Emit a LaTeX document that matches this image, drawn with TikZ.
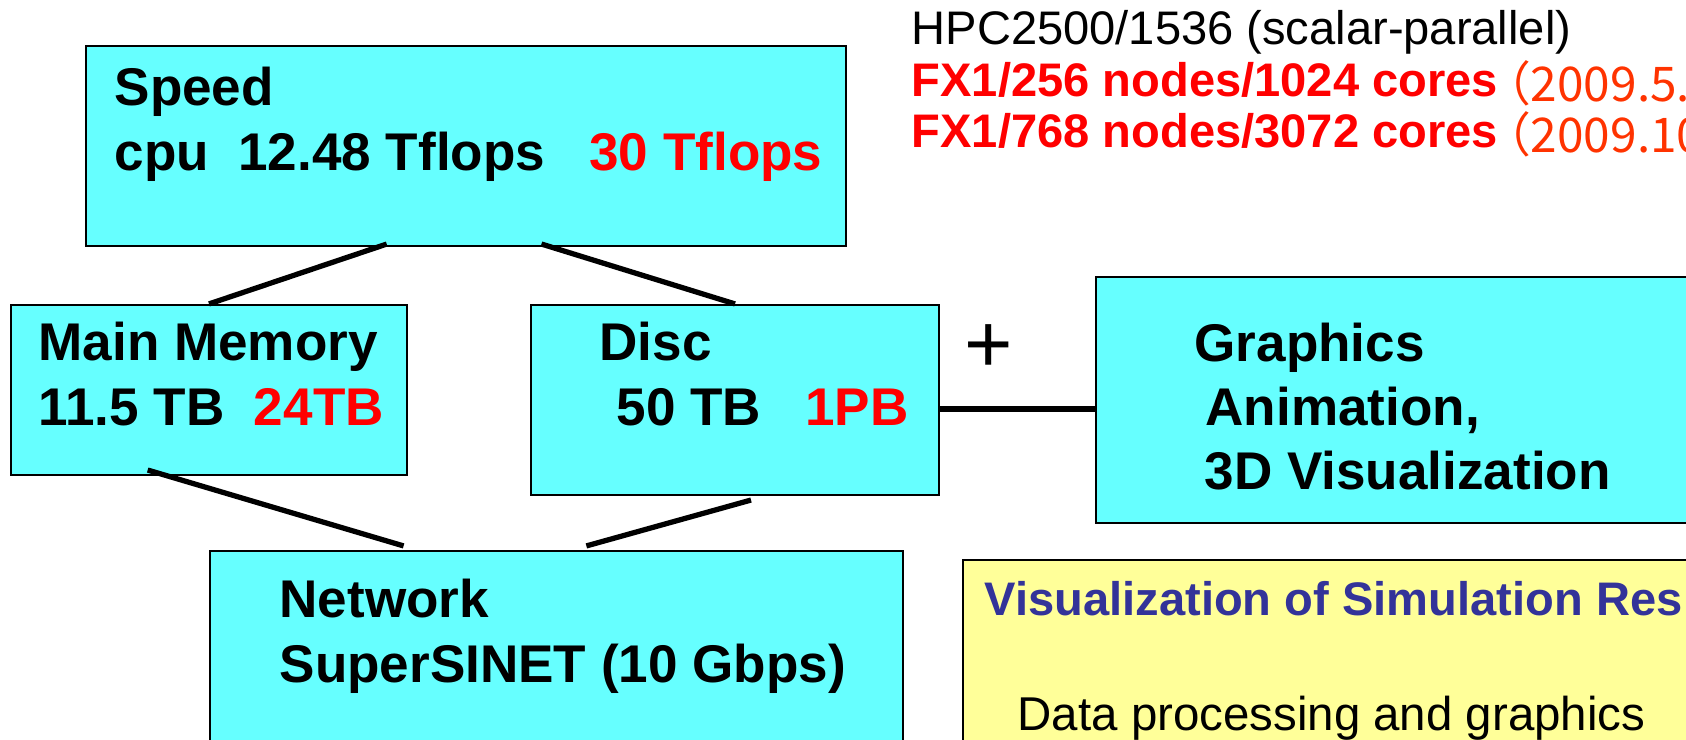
\documentclass[tikz,border=0pt]{standalone}
\usepackage{fontspec}
\setmainfont{Liberation Sans}
\newfontfamily\cjkfont{Noto Sans CJK JP}
\usepackage{xcolor}
\usepackage{tikz}
\usetikzlibrary{calc}
\definecolor{boxcyan}{RGB}{102,255,255}
\definecolor{noteyellow}{RGB}{255,255,153}
\definecolor{titleblue}{RGB}{51,51,153}
\definecolor{datered}{RGB}{255,51,0}
% lines of a text, baseline on the first one
\newcommand{\textlines}[1]{\begin{tabular}[t]{@{}l@{}}#1\end{tabular}}
% date in brackets, set a little lower
\newcommand{\datetext}[1]{\raisebox{-0.05cm}{\cjkfont\fontsize{13.6}{14.6}\selectfont\color{datered}\hspace{-0.15cm}#1}}
\tikzset{
  block/.style={rectangle, draw=black, fill=boxcyan,
    line width=0.6pt, inner sep=0pt},
  noteblock/.style={rectangle, draw=black, fill=noteyellow,
    line width=0.6pt, inner sep=0pt},
  blocktext/.style={anchor=base west, inner sep=0pt,
    font=\fontsize{15.1}{18.5}\selectfont\bfseries},
  spectext/.style={anchor=base west, inner sep=0pt,
    font=\fontsize{13.4}{14.6}\selectfont},
  line/.style={line width=1.5pt, color=black}
}

\begin{document}
\begin{tikzpicture}
  \useasboundingbox (0,0) rectangle (16.86,7.40);
  \clip (0,0) rectangle (16.86,7.40);
  % Blocks
  \node[block, minimum width=7.60cm, minimum height=2.00cm] (speed) at (4.66,5.94) {};
  \node[block, minimum width=3.96cm, minimum height=1.70cm] (mem) at (2.09,3.50) {};
  \node[block, minimum width=4.08cm, minimum height=1.90cm] (disc) at (7.35,3.40) {};
  \node[block, minimum width=6.93cm, minimum height=2.49cm] (net) at (5.565,0.645) {};
  \node[block, minimum width=6.54cm, minimum height=2.46cm] (gfx) at (14.23,3.40) {};
  \node[noteblock, minimum width=7.87cm, minimum height=2.40cm] (vis) at (13.565,0.60) {};
  % Block texts
  \node[blocktext] (speedtxt) at ($(speed.north west)+(0.29,-0.61)$)
    {\textlines{Speed\\cpu~~12.48 Tflops~~~\textcolor{red}{30 Tflops}}};
  \node[blocktext] (memtxt) at ($(mem.north west)+(0.28,-0.57)$)
    {\textlines{Main Memory\\11.5 TB~~\textcolor{red}{24TB}}};
  \node[blocktext] (disctxt) at ($(disc.north west)+(0.69,-0.57)$)
    {\textlines{Disc\\\hspace{0.17cm}50 TB~~~\textcolor{red}{1PB}}};
  \node[blocktext] (nettxt) at ($(net.north west)+(0.70,-0.68)$)
    {\textlines{Network\\SuperSINET (10 Gbps)}};
  \node[blocktext, font=\fontsize{15.1}{18.2}\selectfont\bfseries] (gfxtxt)
    at ($(gfx.north west)+(0.99,-0.86)$)
    {\textlines{Graphics\\\hspace{0.11cm}Animation,\\\hspace{0.10cm}3D Visualization}};
  % Plus sign
  \node[font=\fontsize{23.6}{24}\selectfont, inner sep=0pt, anchor=base] (plus) at (9.89,3.67) {+};
  % Machine spec
  \node[spectext] (spec) at (9.11,6.95)
    {\textlines{HPC2500/1536 (scalar-parallel)\\
     \textcolor{red}{\bfseries FX1/256 nodes/1024 cores}\datetext{（2009.5.}\\
     \textcolor{red}{\bfseries FX1/768 nodes/3072 cores}\datetext{（2009.10}}};
  % Visualization note
  \node[spectext, font=\fontsize{13.4}{14.6}\selectfont\bfseries, text=titleblue] (vistitle)
    at ($(vis.north west)+(0.22,-0.57)$) {Visualization of Simulation Res};
  \node[spectext, font=\fontsize{13.5}{14.6}\selectfont] (visdata)
    at ($(vis.north west)+(0.55,-1.72)$) {Data processing and graphics};
  % Connectors
  \draw[line] ($(speed.south west)!0.396!(speed.south east)+(0,0.03)$) -- (mem.north);
  \draw[line] ($(speed.south west)!0.599!(speed.south east)+(0,0.03)$) -- (disc.north);
  \draw[line] ($(mem.south west)!0.346!(mem.south east)+(0,0.06)$)
    -- ($(net.north west)!0.28!(net.north east)+(0,0.04)$);
  \draw[line] ($(disc.south west)!0.539!(disc.south east)+(0,-0.04)$)
    -- ($(net.north west)!0.543!(net.north east)+(0,0.04)$);
  \draw[line] ([yshift=-0.09cm]disc.east) -- ([yshift=-0.09cm]gfx.west);
\end{tikzpicture}
\end{document}
